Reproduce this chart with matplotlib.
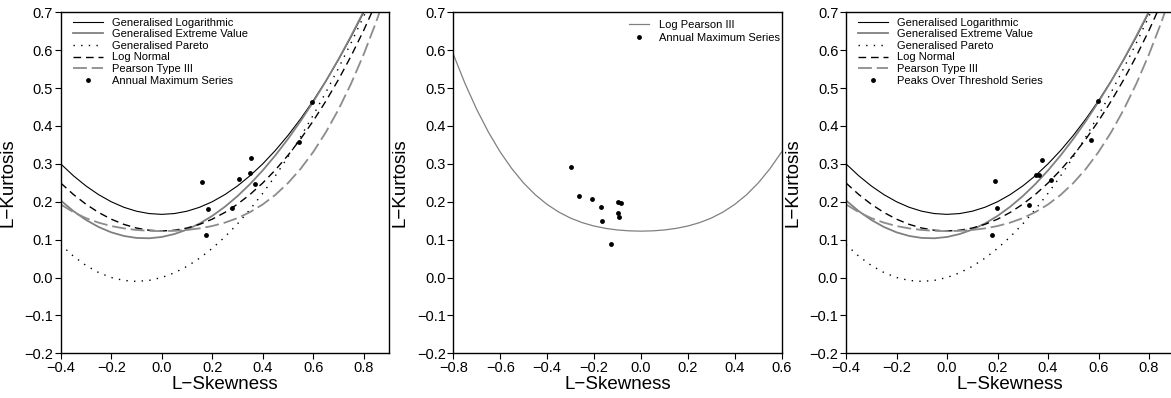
import matplotlib as mpl
mpl.use('Agg')
import matplotlib.pyplot as plt
from matplotlib.lines import Line2D

plt.rcParams['font.family'] = ['Liberation Sans', 'DejaVu Sans']
plt.rcParams['lines.scale_dashes'] = False

# L-moment ratio curves (tau3 -> tau4)
skew_grid = [-0.40, -0.35, -0.30, -0.25, -0.20, -0.15, -0.10, -0.05, 0.00,
             0.05, 0.10, 0.15, 0.20, 0.25, 0.30, 0.35, 0.40, 0.45, 0.50,
             0.55, 0.60, 0.65, 0.70, 0.75, 0.80, 0.85, 0.90]
glo_k = [0.3000, 0.2688, 0.2417, 0.2188, 0.2000, 0.1854, 0.1750, 0.1688, 0.1667,
         0.1688, 0.1750, 0.1854, 0.2000, 0.2188, 0.2417, 0.2688, 0.3000, 0.3354,
         0.3750, 0.4188, 0.4667, 0.5188, 0.5750, 0.6354, 0.7000, 0.7688, 0.8417]
gev_k = [0.2034, 0.1754, 0.1521, 0.1334, 0.1193, 0.1097, 0.1045, 0.1036, 0.1070,
         0.1147, 0.1265, 0.1425, 0.1626, 0.1867, 0.2148, 0.2468, 0.2827, 0.3224,
         0.3658, 0.4130, 0.4638, 0.5182, 0.5762, 0.6378, 0.7029, 0.7718, 0.8443]
gpa_k = [0.0870, 0.0565, 0.0319, 0.0132, 0.0000, -0.0077, -0.0102, -0.0076, 0.0000,
         0.0124, 0.0294, 0.0510, 0.0769, 0.1071, 0.1415, 0.1799, 0.2222, 0.2684,
         0.3182, 0.3716, 0.4286, 0.4889, 0.5526, 0.6196, 0.6897, 0.7628, 0.8390]
ln_k = [0.2495, 0.2194, 0.1935, 0.1717, 0.1540, 0.1403, 0.1306, 0.1248, 0.1228,
        0.1248, 0.1306, 0.1403, 0.1540, 0.1717, 0.1935, 0.2194, 0.2495, 0.2839,
        0.3226, 0.3657, 0.4133, 0.4656, 0.5226, 0.5848, 0.6526, 0.7265, 0.8077]
pe3_k = [0.1929, 0.1727, 0.1568, 0.1448, 0.1359, 0.1297, 0.1255, 0.1232, 0.1224,
         0.1232, 0.1255, 0.1297, 0.1359, 0.1448, 0.1568, 0.1727, 0.1929, 0.2182,
         0.2493, 0.2869, 0.3314, 0.3835, 0.4435, 0.5120, 0.5894, 0.6761, 0.7729]

lp3_skew = [-0.80, -0.75, -0.70, -0.65, -0.60, -0.55, -0.50, -0.45, -0.40, -0.35,
            -0.30, -0.25, -0.20, -0.15, -0.10, -0.05, 0.00, 0.05, 0.10, 0.15,
            0.20, 0.25, 0.30, 0.35, 0.40, 0.45, 0.50, 0.55, 0.60]
lp3_k = [0.5894, 0.5120, 0.4435, 0.3835, 0.3314, 0.2869, 0.2493, 0.2182, 0.1929,
         0.1727, 0.1568, 0.1448, 0.1359, 0.1297, 0.1255, 0.1232, 0.1224, 0.1232,
         0.1255, 0.1297, 0.1359, 0.1448, 0.1568, 0.1727, 0.1929, 0.2182, 0.2493,
         0.2869, 0.3314]

# sample L-moment ratios
ams_skew = [0.595, 0.355, 0.160, 0.308, 0.348, 0.369, 0.544, 0.184, 0.278, 0.177]
ams_kurt = [0.462, 0.316, 0.253, 0.259, 0.277, 0.246, 0.358, 0.180, 0.184, 0.112]

log_skew = [-0.298, -0.266, -0.209, -0.170, -0.099, -0.086, -0.099, -0.092, -0.166, -0.127]
log_kurt = [0.292, 0.215, 0.208, 0.187, 0.199, 0.197, 0.170, 0.161, 0.149, 0.089]

pot_skew = [0.598, 0.376, 0.191, 0.352, 0.365, 0.410, 0.569, 0.197, 0.326, 0.179]
pot_kurt = [0.466, 0.311, 0.256, 0.271, 0.271, 0.257, 0.362, 0.184, 0.192, 0.112]

dist_labels = ["Generalised Logarithmic", "Generalised Extreme Value",
               "Generalised Pareto", "Log Normal", "Pearson Type III"]

W, H = 1171, 398
fig = plt.figure(figsize=(W / 100, H / 100), dpi=100)


def px_axes(left_px):
    return fig.add_axes([left_px / W, (H - 353.3) / H, 328.3 / W, 341 / H])


def one_dp(v, pos):
    s = f"{v:.1f}"
    if s == "-0.0":
        s = "0.0"
    return s.replace('-', '\u2212')


def style_axes(ax, xlim, xticks):
    ax.set_xlim(*xlim)
    ax.set_ylim(-0.2, 0.7)
    ax.set_xticks(xticks)
    ax.set_yticks([-0.2, -0.1, 0.0, 0.1, 0.2, 0.3, 0.4, 0.5, 0.6, 0.7])
    ax.xaxis.set_major_formatter(mpl.ticker.FuncFormatter(one_dp))
    ax.yaxis.set_major_formatter(mpl.ticker.FuncFormatter(one_dp))
    ax.tick_params(direction='out', length=4, width=0.8, labelsize=10.5, pad=1.5)
    for s in ax.spines.values():
        s.set_linewidth(1.0)
    ax.set_xlabel("L\u2212Skewness", fontsize=13.5)
    ax.set_ylabel("L\u2212Kurtosis", fontsize=13.5)
    ax.xaxis.set_label_coords(0.5, -0.068)
    ax.yaxis.set_label_coords(-0.135, 0.5)


def ratio_panel(ax, pts_x, pts_y, pts_label):
    ax.plot(skew_grid, glo_k, color='black', lw=0.8)
    ax.plot(skew_grid, gev_k, color='0.5', lw=1.3)
    ax.plot(skew_grid, gpa_k, color='black', lw=1.0, linestyle=(0, (1.0, 4.5)))
    ax.plot(skew_grid, ln_k, color='black', lw=1.0, linestyle=(0, (5.5, 3.5)))
    ax.plot(skew_grid, pe3_k, color='0.55', lw=1.3, linestyle=(0, (10, 3.5)))
    ax.plot(pts_x, pts_y, 'o', color='black', ms=3.5, mew=0)
    style_axes(ax, (-0.4, 0.9), [-0.4, -0.2, 0.0, 0.2, 0.4, 0.6, 0.8])
    handles = [
        Line2D([], [], color='black', lw=0.8),
        Line2D([], [], color='0.5', lw=1.3),
        Line2D([], [], color='black', lw=1.0, linestyle=(0, (1.0, 4.5))),
        Line2D([], [], color='black', lw=1.0, linestyle=(0, (5.5, 3.5))),
        Line2D([], [], color='0.55', lw=1.3, linestyle=(0, (10, 3.5))),
        Line2D([], [], color='black', marker='o', ms=3.5, mew=0, ls='none'),
    ]
    ax.legend(handles, dist_labels + [pts_label], loc='upper left',
              bbox_to_anchor=(0.0375, 0.984), frameon=False, fontsize=8,
              handlelength=2.7, handletextpad=0.8, labelspacing=0.14,
              borderpad=0, borderaxespad=0, numpoints=1)


ax1 = px_axes(60.7)
ratio_panel(ax1, ams_skew, ams_kurt, "Annual Maximum Series")

ax2 = px_axes(453.3)
ax2.plot(lp3_skew, lp3_k, color='0.5', lw=0.9)
ax2.plot(log_skew, log_kurt, 'o', color='black', ms=3.5, mew=0)
style_axes(ax2, (-0.8, 0.6), [-0.8, -0.6, -0.4, -0.2, 0.0, 0.2, 0.4, 0.6])
h2 = [Line2D([], [], color='0.5', lw=0.9),
      Line2D([], [], color='black', marker='o', ms=3.5, mew=0, ls='none')]
ax2.legend(h2, ["Log Pearson III", "Annual Maximum Series"], loc='upper left',
           bbox_to_anchor=(0.536, 0.978), frameon=False, fontsize=8,
           handlelength=1.8, handletextpad=0.85, labelspacing=0.25,
           borderpad=0, borderaxespad=0, numpoints=1)

ax3 = px_axes(846)
ratio_panel(ax3, pot_skew, pot_kurt, "Peaks Over Threshold Series")

fig.savefig("out.png", dpi=100)
